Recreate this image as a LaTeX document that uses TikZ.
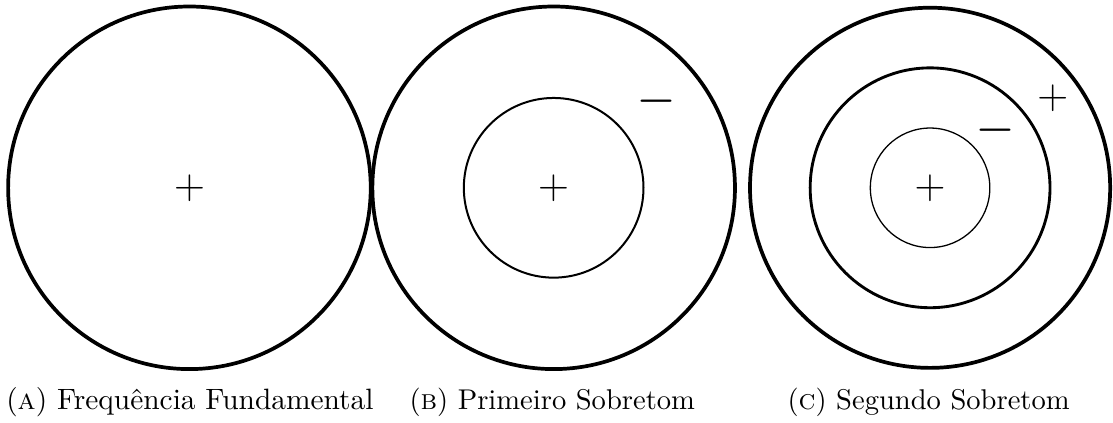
\documentclass[tikz,border=0pt]{standalone}
\usepackage{tikz}
\usetikzlibrary{positioning}
\tikzstyle{ring}=[circle,draw,inner sep=0pt,outer sep=0pt]
\tikzstyle{sign}=[font=\Large,inner sep=0pt]
\tikzstyle{neg}=[font=\Large\bfseries,inner sep=0pt]
\tikzstyle{subcap}=[anchor=base west,inner sep=0pt]

\begin{document}
\begin{tikzpicture}
  \useasboundingbox (0,0) rectangle (13.69,5.2);
  % (a) fundamental
  \node[ring,line width=1.3pt,minimum size=4.46cm] (fa) at (2.33,2.89) {};
  \node[sign] (faplus) at (fa.center) {$+$};
  % (b) first overtone
  \node[ring,line width=1.3pt,minimum size=4.46cm] (fb) at (6.81,2.89) {};
  \node[ring,line width=0.7pt,minimum size=2.21cm] (fbin) at (fb.center) {};
  \node[sign] (fbplus) at (fb.center) {$+$};
  \node[neg] (fbminus) at (8.08,3.90) {−};
  % (c) second overtone
  \node[ring,line width=1.3pt,minimum size=4.43cm] (fc) at (11.44,2.89) {};
  \node[ring,line width=1pt,minimum size=2.95cm] (fcmid) at (fc.center) {};
  \node[ring,line width=0.45pt,minimum size=1.47cm] (fcin) at (fc.center) {};
  \node[sign] (fcplus) at (fc.center) {$+$};
  \node[neg] (fcminus) at (12.25,3.54) {−};
  \node[sign] (fcoplus) at (12.95,3.99) {$+$};
  % captions
  \node[subcap,font=\fontsize{10.3}{12}\selectfont] (capa) at (0.07,0.16) {(\textsc{a}) Frequência Fundamental};
  \node[subcap] (capb) at (5.03,0.16) {(\textsc{b}) Primeiro Sobretom};
  \node[subcap] (capc) at (9.68,0.16) {(\textsc{c}) Segundo Sobretom};
\end{tikzpicture}
\end{document}
